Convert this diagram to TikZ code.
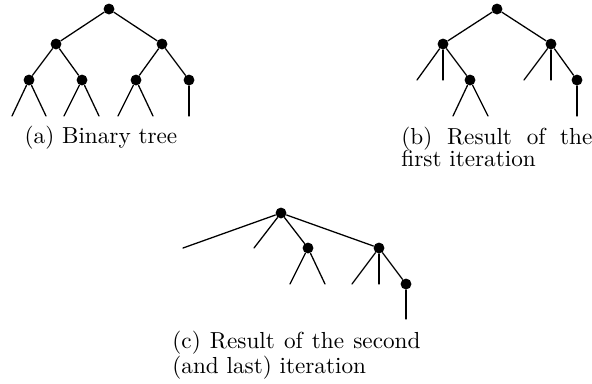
\documentclass[tikz,border=0pt]{standalone}
\usetikzlibrary{positioning}
\begin{document}
\begin{tikzpicture}[line cap=round,line join=round,x=0.431pt,y=-0.431pt,
  vertex/.style={circle,fill=black,inner sep=0pt,minimum size=4.7pt},
  edge/.style={line width=0.55pt},
  subcap/.style={anchor=base west,inner sep=0pt,align=justify,font=\fontsize{10}{9.9}\selectfont}]
\useasboundingbox (0,0) rectangle (592,383);
% (a) binary tree
\node[vertex] (ra) at (109,9) {};
\node[vertex] (a1) at (56,44) {};
\node[vertex] (a2) at (162,44) {};
\node[vertex] (a11) at (29,80) {};
\node[vertex] (a12) at (82,80) {};
\node[vertex] (a21) at (136,80) {};
\node[vertex] (a22) at (189,80) {};
\draw[edge] (ra) -- (a1);
\draw[edge] (ra) -- (a2);
\draw[edge] (a1) -- (a11);
\draw[edge] (a1) -- (a12);
\draw[edge] (a2) -- (a21);
\draw[edge] (a2) -- (a22);
\foreach \p/\x [count=\i] in {a11/12,a11/46,a12/64,a12/99,a21/118,a21/153,a22/189}
{\coordinate (la\i) at (\x,116);
 \draw[edge] (\p) -- (la\i);}
\node[subcap,anchor=base] (capa) at (101,143) {(a) Binary tree};
% (b) first iteration
\node[vertex] (rb) at (497,9) {};
\node[vertex] (b1) at (443,44) {};
\node[vertex] (b2) at (551,44) {};
\node[vertex] (b12) at (470,80) {};
\node[vertex] (b22) at (577,80) {};
\draw[edge] (rb) -- (b1);
\draw[edge] (rb) -- (b2);
\draw[edge] (b1) -- (b12);
\draw[edge] (b2) -- (b22);
\foreach \p/\x/\y [count=\i] in {b1/417/80,b1/443/80,b12/453/116,b12/488/116,b2/524/80,b2/551/80,b22/577/116}
{\coordinate (lb\i) at (\x,\y);
 \draw[edge] (\p) -- (lb\i);}
\node[subcap,text width=82.3pt] (capb) at (401,144)
  {\noindent(b) Result of the\linebreak first iteration};
% (c) second iteration
\node[vertex] (rc) at (281,213) {};
\node[vertex] (c3) at (308,248) {};
\node[vertex] (c4) at (379,248) {};
\node[vertex] (c43) at (406,284) {};
\draw[edge] (rc) -- (c3);
\draw[edge] (rc) -- (c4);
\draw[edge] (c4) -- (c43);
\foreach \p/\x/\y [count=\i] in {rc/183/248,rc/254/248,c3/290/284,c3/325/284,c4/352/284,c4/379/284,c43/406/319}
{\coordinate (lc\i) at (\x,\y);
 \draw[edge] (\p) -- (lc\i);}
\node[subcap,text width=106.9pt] (capc) at (172,348)
  {\noindent(c) Result of the second\linebreak (and last) iteration};
\end{tikzpicture}
\end{document}
